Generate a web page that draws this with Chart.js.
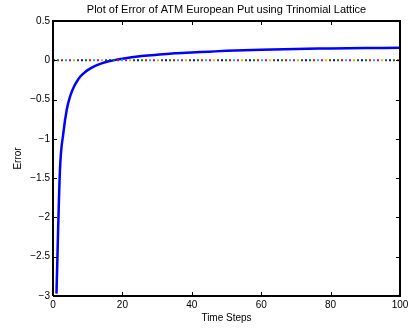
<!DOCTYPE html>
<html>
<head>
<meta charset="utf-8">
<script src="https://cdn.jsdelivr.net/npm/chart.js@4/dist/chart.umd.min.js"></script>
<style>
  html, body { margin: 0; padding: 0; background: #fff; }
  #wrap { width: 408px; height: 329px; }
</style>
</head>
<body>
<div id="wrap"><canvas id="myChart" width="408" height="329"></canvas></div>
<script>
// time steps and error
var steps  = [1, 2, 3, 4, 5, 6, 7, 8, 9, 10, 12, 14, 16, 18, 20, 25, 30, 35, 40, 45, 50, 60, 70, 80, 90, 100];
var errors = [-2.97, -1.40, -0.92, -0.62, -0.45, -0.34, -0.26, -0.20, -0.16, -0.125, -0.075, -0.04, -0.013, 0.005, 0.02, 0.05, 0.07, 0.09, 0.10, 0.11, 0.12, 0.135, 0.145, 0.15, 0.155, 0.16];

// the dotted zero reference line (many overlapping dotted series in matlab)
var zeroX = [0, 100];
var zeroY = [0, 0];
var dotColors = ['#0000ff', '#008000', '#ff0000', '#00bfbf', '#bf00bf', '#bfbf00', '#404040'];

// axes range, the box is drawn along it
var xRange = [0, 100];
var yRange = [-3, 0.5];

var chartTitle = 'Plot of Error of ATM European Put using Trinomial Lattice';
var xTitle = 'Time Steps';
var yTitle = 'Error';

var curve = [];
for (var i = 0; i < steps.length; i++) curve.push({x: steps[i], y: errors[i]});

var datasets = [{
  label: 'error',
  data: curve,
  borderColor: '#0000ff',
  borderWidth: 2.5,
  pointRadius: 0,
  fill: false,
  cubicInterpolationMode: 'monotone',
  order: 2
}];

dotColors.forEach(function(c, k) {
  datasets.push({
    label: 'zero' + k,
    data: [{x: zeroX[0], y: zeroY[0]}, {x: zeroX[1], y: zeroY[1]}],
    borderColor: c,
    borderWidth: 2,
    borderDash: [2, 4 * dotColors.length - 2],
    borderDashOffset: -4 * k,
    pointRadius: 0,
    fill: false,
    order: 1
  });
});

// the axes box as a closed line on the scales
datasets.push({
  label: 'box',
  data: [
    {x: xRange[0], y: yRange[0]}, {x: xRange[1], y: yRange[0]},
    {x: xRange[1], y: yRange[1]}, {x: xRange[0], y: yRange[1]},
    {x: xRange[0], y: yRange[0]}
  ],
  borderColor: '#000000',
  borderWidth: 2,
  pointRadius: 0,
  fill: false,
  tension: 0,
  clip: false,
  order: 0
});

// inward ticks and the title centred over the plot area
var matlabBox = {
  id: 'matlabBox',
  afterDraw: function(chart) {
    var ctx = chart.ctx, a = chart.chartArea;
    var xs = chart.scales.x, ys = chart.scales.y;
    var L = Math.round(a.left), R = Math.round(a.right), T = Math.round(a.top), B = Math.round(a.bottom);
    ctx.save();
    ctx.setLineDash([]);
    ctx.strokeStyle = '#000';
    ctx.lineWidth = 1;
    var tk = new Path2D();
    xs.ticks.forEach(function(t) {
      var px = Math.round(xs.getPixelForValue(t.value)) + 0.5;
      tk.moveTo(px, B); tk.lineTo(px, B - 4);
      tk.moveTo(px, T); tk.lineTo(px, T + 4);
    });
    ys.ticks.forEach(function(t) {
      var py = Math.round(ys.getPixelForValue(t.value)) + 0.5;
      tk.moveTo(L, py); tk.lineTo(L + 4, py);
      tk.moveTo(R, py); tk.lineTo(R - 4, py);
    });
    ctx.stroke(tk);
    ctx.fillStyle = '#000';
    ctx.font = '11px "Liberation Sans", Arial, sans-serif';
    ctx.textAlign = 'center';
    ctx.textBaseline = 'middle';
    ctx.fillText(chartTitle, (a.left + a.right) / 2, 10);
    ctx.restore();
  }
};

var tickFont = {family: '"Liberation Sans", Arial, sans-serif', size: 10};

new Chart('myChart', {
  type: 'line',
  data: { datasets: datasets },
  options: {
    responsive: false,
    animation: false,
    layout: { padding: { left: 0, right: 8, top: 21, bottom: 0 } },
    plugins: { legend: { display: false }, tooltip: { enabled: false }, title: { display: false } },
    scales: {
      x: {
        type: 'linear',
        min: xRange[0], max: xRange[1],
        grid: { display: false, tickLength: 0 },
        border: { display: false },
        ticks: { stepSize: 20, color: '#000', font: tickFont, padding: 3, maxRotation: 0 },
        title: { display: true, text: xTitle, color: '#000', font: tickFont, padding: { top: 0, bottom: 5 } },
        afterFit: function(s) { s.height = 33; s.paddingLeft = 0; s.paddingRight = 0; }
      },
      y: {
        min: yRange[0], max: yRange[1],
        grid: { display: false, tickLength: 0 },
        border: { display: false },
        ticks: {
          stepSize: 0.5, color: '#000', font: tickFont, padding: 3,
          callback: function(v) { return v < 0 ? '\u2212' + Math.abs(v) : String(v); }
        },
        title: { display: true, text: yTitle, color: '#000', font: tickFont, padding: { top: 12, bottom: 0 } },
        afterFit: function(s) { s.width = 53; }
      }
    }
  },
  plugins: [matlabBox]
});
</script>
</body>
</html>
